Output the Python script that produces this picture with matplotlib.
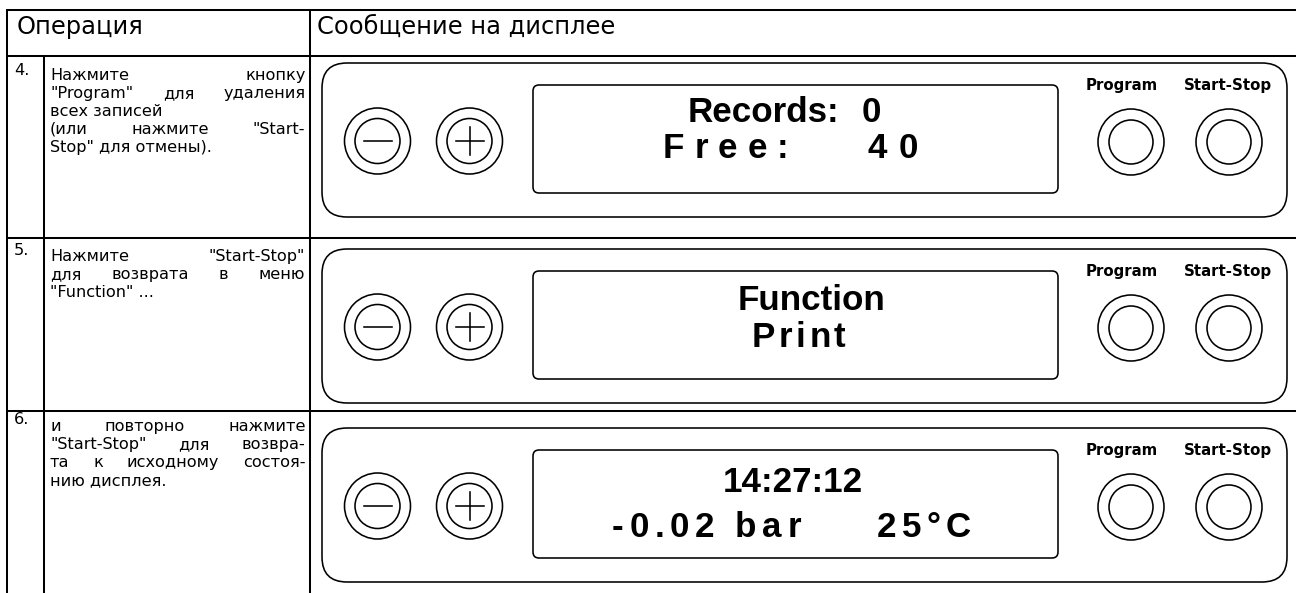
import matplotlib
matplotlib.use("Agg")
import matplotlib.pyplot as plt
from matplotlib.patches import FancyBboxPatch, Circle
from matplotlib.font_manager import findfont, FontProperties
from matplotlib.ft2font import FT2Font

# ---------------- data ----------------
header_labels = ["Операция", "Сообщение на дисплее"]
step_numbers = ["4.", "5.", "6."]
# (line text, justified?)
operation_lines = [
    [("Нажмите кнопку", True),
     ('"Program" для удаления', True),
     ("всех записей", False),
     ('(или нажмите "Start-', True),
     ('Stop" для отмены).', False)],
    [('Нажмите "Start-Stop"', True),
     ("для возврата в меню", True),
     ('"Function" ...', False)],
    [("и повторно нажмите", True),
     ('"Start-Stop" для возвра-', True),
     ("та к исходному состоя-", True),
     ("нию дисплея.", False)],
]
display_line1 = [["Records:", "0"], ["Function"], ["14:27:12"]]
display_line2 = [["Free:", "40"], ["Print"], ["-0.02 bar", "25°C"]]
button_labels = ["Program", "Start-Stop"]

# ---------------- layout ----------------
W, H, DPI = 1296, 593, 100
fig = plt.figure(figsize=(W / DPI, H / DPI), dpi=DPI)
ax = fig.add_axes([0, 0, 1, 1])
ax.set_xlim(0, W)
ax.set_ylim(H, 0)
ax.axis("off")

DISP_FAMILY = "Liberation Sans"
TEXT_FAMILY = "DejaVu Sans"
_fonts = {}


def get_font(family, bold):
    key = (family, bold)
    if key not in _fonts:
        path = findfont(FontProperties(family=family, weight="bold" if bold else "normal"))
        _fonts[key] = FT2Font(path)
    return _fonts[key]


def adv(ch, px, bold, family):
    f = get_font(family, bold)
    f.set_size(px * 72.0 / DPI, DPI)
    g = f.load_char(ord(ch))
    return g.linearHoriAdvance / 65536.0


def width(s, px, bold=False, family=TEXT_FAMILY, tracking=0.0):
    return sum(adv(c, px, bold, family) for c in s) + tracking * max(len(s) - 1, 0)


def fit_px(s, target, bold=False, family=TEXT_FAMILY):
    return 20.0 * target / width(s, 20.0, bold, family)


def pt(px):
    return px * 72.0 / DPI


def draw_tracked(x, y, s, px, tracking):
    kw = dict(fontsize=pt(px), family=DISP_FAMILY, fontweight="bold", va="baseline", ha="left")
    if tracking == 0:
        ax.text(x, y, s, **kw)
        return
    for c in s:
        if c != " ":
            ax.text(x, y, c, **kw)
        x += adv(c, px, True, DISP_FAMILY) + tracking


def draw_justified(x0, x1, y, s, px, justify):
    kw = dict(fontsize=pt(px), family=TEXT_FAMILY, va="baseline", ha="left")
    words = s.split(" ")
    if not justify or len(words) < 2:
        ax.text(x0, y, s, **kw)
        return
    ws = [width(w, px) for w in words]
    gap = (x1 - x0 - sum(ws)) / (len(words) - 1)
    x = x0
    for w, ww in zip(words, ws):
        ax.text(x, y, w, **kw)
        x += ww + gap


LW_TABLE = 1.45
LW_BOX = 1.15

# table grid
x_left, x_num, x_split = 7, 44, 310
y_top, y_head = 10, 56
row_tops = [56, 238, 411]
ax.plot([x_left, W], [y_top, y_top], color="black", lw=LW_TABLE, solid_capstyle="butt")
for y in [y_head] + row_tops[1:]:
    ax.plot([x_left, W], [y, y], color="black", lw=LW_TABLE, solid_capstyle="butt")
ax.plot([x_left, x_left], [y_top, H], color="black", lw=LW_TABLE)
ax.plot([x_split, x_split], [y_top, H], color="black", lw=LW_TABLE)
ax.plot([x_num, x_num], [y_head, H], color="black", lw=LW_TABLE)

# header
HEAD_PX = fit_px(header_labels[1], 297)
ax.text(17, 34, header_labels[0], fontsize=pt(HEAD_PX), family=TEXT_FAMILY, va="baseline")
ax.text(317, 34, header_labels[1], fontsize=pt(HEAD_PX), family=TEXT_FAMILY, va="baseline")

# operation column
first_baselines = [80, 261, 431]
num_baselines = [75, 255, 424]
BODY_PX = 0.5 * (fit_px("всех записей", 110) + fit_px("нию дисплея.", 118))
LINE_STEP = 18
for i in range(3):
    ax.text(14, num_baselines[i], step_numbers[i], fontsize=pt(BODY_PX), family=TEXT_FAMILY, va="baseline")
    for j, (line, just) in enumerate(operation_lines[i]):
        draw_justified(50, 305, first_baselines[i] + LINE_STEP * j, line, BODY_PX, just)

# display panels
box_tops = [63, 249, 428]
BOX_H = 154
BOX_X0, BOX_X1 = 322, 1287
LCD_X0, LCD_X1 = 533, 1058
DISP_PX = 35

line1_layout = [[(688, 0), (862, 0)], [(738, 0)], [(723, 0)]]
line1_off = [59, 61, 64]
line2_layout = [[(663, 10), (867, 12)], [(752, 3.5)], [(612, 5.6), (877, 5.3)]]
line2_off = [95, 98, 109]

LABEL_PX = 0.5 * (fit_px("Program", 73, True) + fit_px("Start-Stop", 88, True))
for i, top in enumerate(box_tops):
    ax.add_patch(FancyBboxPatch((BOX_X0, top), BOX_X1 - BOX_X0, BOX_H,
                                boxstyle="round,pad=0,rounding_size=25",
                                fill=False, ec="black", lw=LW_BOX))
    ax.add_patch(FancyBboxPatch((LCD_X0, top + 22), LCD_X1 - LCD_X0, 108,
                                boxstyle="round,pad=0,rounding_size=6",
                                fill=False, ec="black", lw=LW_BOX))
    cy = top + 78
    # minus / plus buttons
    for cx, sign in [(377.5, "-"), (469.5, "+")]:
        ax.add_patch(Circle((cx, cy), 33, fill=False, ec="black", lw=LW_BOX))
        ax.add_patch(Circle((cx, cy), 22.5, fill=False, ec="black", lw=LW_BOX))
        ax.plot([cx - 14, cx + 14], [cy, cy], color="black", lw=LW_BOX)
        if sign == "+":
            ax.plot([cx, cx], [cy - 14, cy + 14], color="black", lw=LW_BOX)
    # Program / Start-Stop buttons
    for cx, lx, lab in zip([1131, 1229], [1122, 1228], button_labels):
        ax.add_patch(Circle((cx, cy + 1), 33, fill=False, ec="black", lw=LW_BOX))
        ax.add_patch(Circle((cx, cy + 1), 22, fill=False, ec="black", lw=LW_BOX))
        ax.text(lx, top + 27, lab, fontsize=pt(LABEL_PX),
                family=TEXT_FAMILY, fontweight="bold", ha="center", va="baseline")
    # display text
    for s, (x, tr) in zip(display_line1[i], line1_layout[i]):
        draw_tracked(x, top + line1_off[i], s, DISP_PX, tr)
    for s, (x, tr) in zip(display_line2[i], line2_layout[i]):
        draw_tracked(x, top + line2_off[i], s, DISP_PX, tr)

fig.savefig("out.png", dpi=DPI, facecolor="white")
